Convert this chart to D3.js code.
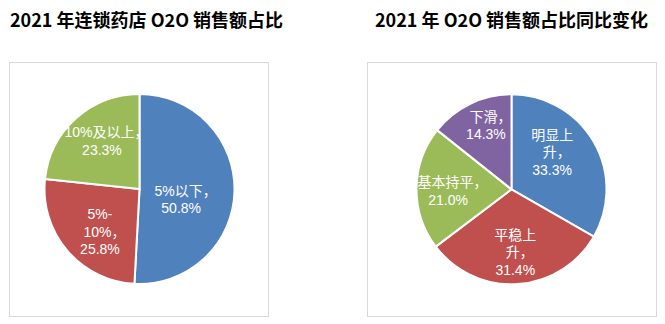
<!DOCTYPE html>
<html>
<head>
<meta charset="utf-8">
<script src="https://cdn.jsdelivr.net/npm/d3@7/dist/d3.min.js"></script>
<style>
  html, body { margin: 0; padding: 0; background: #ffffff; }
  svg { display: block; }
</style>
</head>
<body>
<svg id="chart" width="665" height="324"></svg>
<script>
// ---- Data ----
const leftTitle = "2021 年连锁药店 O2O 销售额占比";
const leftCategories = ["5%以下", "5%-10%", "10%及以上"];
const leftValues = [50.8, 25.8, 23.3];
const leftLabelLines = [["5%以下，", "50.8%"], ["5%-", "10%，", "25.8%"], ["10%及以上，", "23.3%"]];

const rightTitle = "2021 年 O2O 销售额占比同比变化";
const rightCategories = ["明显上升", "平稳上升", "基本持平", "下滑"];
const rightValues = [33.3, 31.4, 21.0, 14.3];
const rightLabelLines = [["明显上", "升，", "33.3%"], ["平稳上", "升，", "31.4%"], ["基本持平，", "21.0%"], ["下滑，", "14.3%"]];

const colors = ["#4F81BD", "#C0504D", "#9BBB59", "#8064A2"];

// ---- Label placement (layout, not data): angle offset from slice middle (deg), radius (px) ----
const leftLabelPlace = [[12.7, 43], [-6.9, 58.4], [4.0, 61]];
const rightLabelPlace = [[-12.3, 55], [0.2, 63], [-2.1, 63.5], [3.9, 68.7]];

// ---- Drawing ----
const svg = d3.select("#chart");
const fontCJK = "'Noto Sans CJK SC', 'Noto Sans', sans-serif";
const fontLabel = "'Liberation Sans', 'Noto Sans CJK SC', sans-serif";
const labelSize = 14;
const commaVisual = 5; // visible width of the trailing full-width comma

function drawPanel(cfg) {
  const g = svg.append("g");
  g.append("text")
    .attr("x", cfg.titleX).attr("y", 27)
    .attr("font-family", fontCJK)
    .attr("font-weight", "bold")
    .attr("font-size", 18)
    .attr("fill", "#000")
    .text(cfg.title);
  g.append("rect")
    .attr("x", cfg.box[0] + 0.5).attr("y", cfg.box[1] + 0.5)
    .attr("width", cfg.box[2] - cfg.box[0]).attr("height", cfg.box[3] - cfg.box[1])
    .attr("fill", "#fff").attr("stroke", "#d9d9d9").attr("stroke-width", 1);

  const color = d3.scaleOrdinal().domain(cfg.categories).range(colors);
  const pie = d3.pie().sort(null).value(d => d.value);
  const data = cfg.categories.map((c, i) => ({ cat: c, value: cfg.values[i], lines: cfg.lines[i], place: cfg.place[i] }));
  const arcs = pie(data);
  const arc = d3.arc().innerRadius(0).outerRadius(cfg.r);

  const pg = g.append("g").attr("transform", `translate(${cfg.cx},${cfg.cy})`);
  pg.selectAll("path").data(arcs).join("path")
    .attr("d", arc)
    .attr("fill", d => color(d.data.cat))
    .attr("stroke", "#fff")
    .attr("stroke-width", 2)
    .attr("stroke-linejoin", "round");

  const lineH = 17.5;
  arcs.forEach(d => {
    const a = (d.startAngle + d.endAngle) / 2 + d.data.place[0] * Math.PI / 180;
    const lr = d.data.place[1];
    const x = lr * Math.sin(a);
    const y = -lr * Math.cos(a);
    const n = d.data.lines.length;
    d.data.lines.forEach((ln, i) => {
      const hasComma = ln.endsWith("，");
      const body = hasComma ? ln.slice(0, -1) : ln;
      const t = pg.append("text")
        .attr("font-family", fontLabel)
        .attr("font-size", labelSize)
        .attr("fill", "#fff")
        .attr("y", y + (i - (n - 1) / 2) * lineH + 5)
        .text(body);
      const w = t.node().getComputedTextLength();
      const total = w + (hasComma ? commaVisual : 0);
      t.attr("x", x - total / 2);
      if (hasComma) t.append("tspan").text("，");
    });
  });
}

drawPanel({
  title: leftTitle, titleX: 10,
  box: [9, 62, 268, 316],
  categories: leftCategories, values: leftValues, lines: leftLabelLines, place: leftLabelPlace,
  cx: 139.5, cy: 189, r: 95
});

drawPanel({
  title: rightTitle, titleX: 375,
  box: [367, 62, 656, 316],
  categories: rightCategories, values: rightValues, lines: rightLabelLines, place: rightLabelPlace,
  cx: 511.5, cy: 189.3, r: 95
});
</script>
</body>
</html>
